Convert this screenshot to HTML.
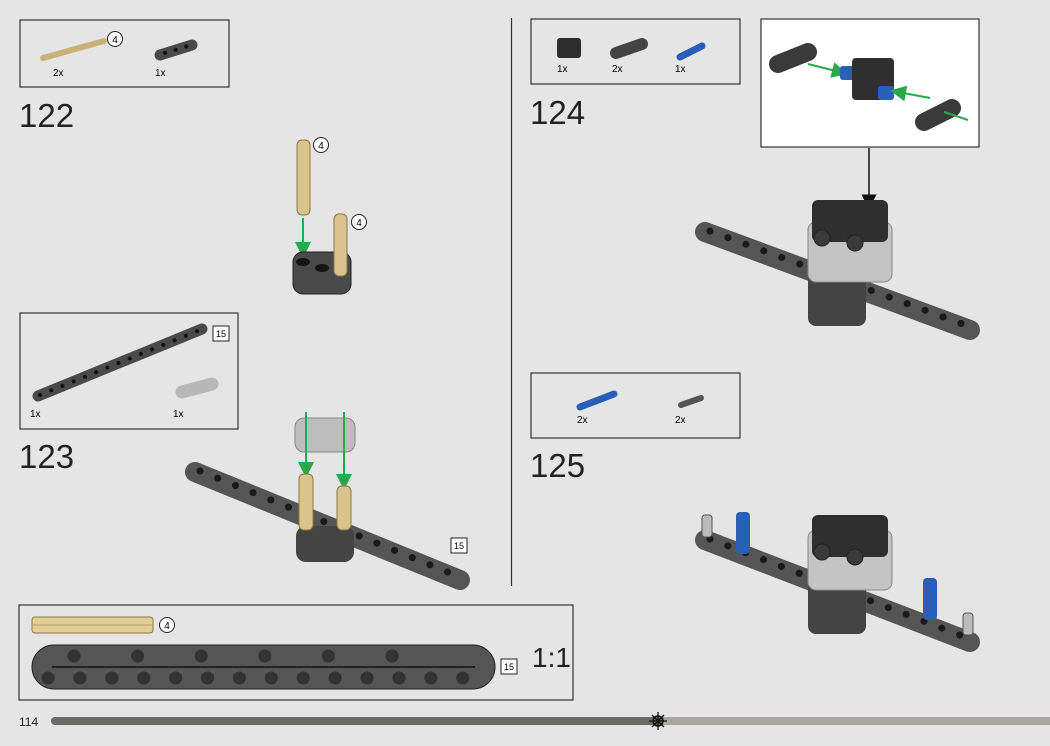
<!DOCTYPE html>
<html><head><meta charset="utf-8"><style>
html,body{margin:0;padding:0;background:#e5e5e5;}
svg{display:block;font-family:"Liberation Sans",sans-serif;}
</style></head><body>
<svg width="1050" height="746" viewBox="0 0 1050 746" xmlns="http://www.w3.org/2000/svg">
<defs>
<marker id="ga" markerWidth="8" markerHeight="8" refX="4" refY="4" orient="auto"><path d="M0,0 L8,4 L0,8 z" fill="#2aa84a"/></marker>
<marker id="ka" markerWidth="10" markerHeight="10" refX="5" refY="5" orient="auto"><path d="M0,0 L10,5 L0,10 z" fill="#111"/></marker>
</defs>
<rect width="1050" height="746" fill="#e5e5e5"/>

<!-- Box 122 parts -->
<rect x="20" y="20" width="209" height="67" fill="none" stroke="#333" stroke-width="1.2"/>
<line x1="43" y1="58" x2="104" y2="41" stroke="#c8b27a" stroke-width="6" stroke-linecap="round"/>
<circle cx="115" cy="39" r="7.5" fill="#fff" stroke="#222"/><text x="115" y="43" font-size="10" text-anchor="middle">4</text>
<line x1="160" y1="55" x2="192" y2="45" stroke="#4a4a4a" stroke-width="11" stroke-linecap="round"/>
<line x1="165" y1="53" x2="188" y2="46" stroke="#111" stroke-width="4" stroke-linecap="round" stroke-dasharray="0.1 11"/>
<text x="53" y="76" font-size="10">2x</text><text x="155" y="76" font-size="10">1x</text>
<text x="19" y="127" font-size="33" fill="#222">122</text>

<!-- Step 122 model -->
<rect x="297" y="140" width="13" height="75" rx="5" fill="#d9c48d" stroke="#8a7745"/>
<circle cx="321" cy="145" r="7.5" fill="#fff" stroke="#222"/><text x="321" y="149" font-size="10" text-anchor="middle">4</text>
<line x1="303" y1="218" x2="303" y2="250" stroke="#2aa84a" stroke-width="2" marker-end="url(#ga)"/>
<rect x="293" y="252" width="58" height="42" rx="10" fill="#4a4a4a" stroke="#222"/>
<ellipse cx="303" cy="262" rx="7" ry="4" fill="#151515"/><ellipse cx="322" cy="268" rx="7" ry="4" fill="#151515"/>
<rect x="334" y="214" width="13" height="62" rx="5" fill="#d9c48d" stroke="#8a7745"/>
<circle cx="359" cy="222" r="7.5" fill="#fff" stroke="#222"/><text x="359" y="226" font-size="10" text-anchor="middle">4</text>

<!-- Box 123 parts -->
<rect x="20" y="313" width="218" height="116" fill="none" stroke="#333" stroke-width="1.2"/>
<line x1="38" y1="396" x2="202" y2="329" stroke="#4a4a4a" stroke-width="11" stroke-linecap="round"/>
<line x1="40" y1="395" x2="200" y2="330" stroke="#111" stroke-width="4" stroke-linecap="round" stroke-dasharray="0.1 12"/>
<line x1="182" y1="392" x2="212" y2="384" stroke="#b8b8b8" stroke-width="13" stroke-linecap="round"/>
<rect x="213" y="326" width="16" height="15" fill="#fff" stroke="#222"/><text x="221" y="337" font-size="9" text-anchor="middle">15</text>
<text x="30" y="417" font-size="10">1x</text><text x="173" y="417" font-size="10">1x</text>
<text x="19" y="468" font-size="33" fill="#222">123</text>

<!-- Step 123 model -->
<line x1="195" y1="472" x2="460" y2="580" stroke="#555" stroke-width="20" stroke-linecap="round"/>
<line x1="200" y1="471" x2="455" y2="575" stroke="#1a1a1a" stroke-width="7" stroke-linecap="round" stroke-dasharray="0.1 19"/>
<rect x="296" y="526" width="58" height="36" rx="10" fill="#444"/>
<rect x="295" y="418" width="60" height="34" rx="9" fill="#bdbdbd" stroke="#888"/>
<line x1="306" y1="412" x2="306" y2="470" stroke="#2aa84a" stroke-width="2" marker-end="url(#ga)"/>
<line x1="344" y1="412" x2="344" y2="482" stroke="#2aa84a" stroke-width="2" marker-end="url(#ga)"/>
<rect x="299" y="474" width="14" height="56" rx="5" fill="#d9c48d" stroke="#8a7745"/>
<rect x="337" y="486" width="14" height="44" rx="5" fill="#d9c48d" stroke="#8a7745"/>
<rect x="451" y="538" width="16" height="15" fill="#fff" stroke="#222"/><text x="459" y="549" font-size="9" text-anchor="middle">15</text>

<line x1="511.5" y1="18" x2="511.5" y2="586" stroke="#333" stroke-width="1.2"/>

<!-- Box 124 parts -->
<rect x="531" y="19" width="209" height="65" fill="none" stroke="#333" stroke-width="1.2"/>
<rect x="557" y="38" width="24" height="20" rx="3" fill="#2d2d2d"/>
<line x1="616" y1="53" x2="642" y2="44" stroke="#444" stroke-width="12" stroke-linecap="round"/>
<line x1="680" y1="57" x2="702" y2="46" stroke="#2a5fb8" stroke-width="7" stroke-linecap="round"/>
<text x="557" y="72" font-size="10">1x</text><text x="612" y="72" font-size="10">2x</text><text x="675" y="72" font-size="10">1x</text>
<text x="530" y="124" font-size="33" fill="#222">124</text>

<!-- callout -->
<rect x="761" y="19" width="218" height="128" fill="#fff" stroke="#333" stroke-width="1.2"/>
<line x1="778" y1="64" x2="808" y2="52" stroke="#3a3a3a" stroke-width="18" stroke-linecap="round"/>
<line x1="808" y1="64" x2="840" y2="72" stroke="#2aa84a" stroke-width="2" marker-end="url(#ga)"/>
<rect x="840" y="66" width="16" height="14" rx="3" fill="#2a5fb8"/>
<rect x="852" y="58" width="42" height="42" rx="4" fill="#2f2f2f"/>
<rect x="878" y="86" width="16" height="14" rx="3" fill="#2a5fb8"/>
<line x1="930" y1="98" x2="898" y2="92" stroke="#2aa84a" stroke-width="2" marker-end="url(#ga)"/>
<line x1="924" y1="122" x2="952" y2="108" stroke="#3a3a3a" stroke-width="18" stroke-linecap="round"/>
<line x1="944" y1="112" x2="968" y2="120" stroke="#2aa84a" stroke-width="2"/>
<line x1="869" y1="148" x2="869" y2="202" stroke="#111" stroke-width="1.5" marker-end="url(#ka)"/>

<!-- Step 124 model -->
<line x1="705" y1="232" x2="970" y2="330" stroke="#555" stroke-width="20" stroke-linecap="round"/>
<line x1="710" y1="231" x2="965" y2="325" stroke="#1a1a1a" stroke-width="7" stroke-linecap="round" stroke-dasharray="0.1 19"/>
<rect x="808" y="270" width="58" height="56" rx="8" fill="#444"/>
<rect x="808" y="222" width="84" height="60" rx="8" fill="#c4c4c4" stroke="#888"/>
<rect x="812" y="200" width="76" height="42" rx="6" fill="#2f2f2f"/>
<circle cx="822" cy="238" r="8" fill="#3a3a3a" stroke="#222"/><circle cx="855" cy="243" r="8" fill="#3a3a3a" stroke="#222"/>

<!-- Box 125 parts -->
<rect x="531" y="373" width="209" height="65" fill="none" stroke="#333" stroke-width="1.2"/>
<line x1="580" y1="407" x2="614" y2="394" stroke="#2a5fb8" stroke-width="7" stroke-linecap="round"/>
<line x1="681" y1="405" x2="701" y2="398" stroke="#555" stroke-width="6" stroke-linecap="round"/>
<text x="577" y="423" font-size="10">2x</text><text x="675" y="423" font-size="10">2x</text>
<text x="530" y="477" font-size="33" fill="#222">125</text>

<!-- Step 125 model -->
<line x1="705" y1="540" x2="970" y2="642" stroke="#555" stroke-width="20" stroke-linecap="round"/>
<line x1="710" y1="539" x2="965" y2="637" stroke="#1a1a1a" stroke-width="7" stroke-linecap="round" stroke-dasharray="0.1 19"/>
<rect x="808" y="578" width="58" height="56" rx="8" fill="#444"/>
<rect x="808" y="530" width="84" height="60" rx="8" fill="#c4c4c4" stroke="#888"/>
<rect x="812" y="515" width="76" height="42" rx="6" fill="#2f2f2f"/>
<circle cx="822" cy="552" r="8" fill="#3a3a3a" stroke="#222"/><circle cx="855" cy="557" r="8" fill="#3a3a3a" stroke="#222"/>
<rect x="736" y="512" width="14" height="42" rx="4" fill="#2a5fb8"/>
<rect x="923" y="578" width="14" height="42" rx="4" fill="#2a5fb8"/>
<rect x="702" y="515" width="10" height="22" rx="3" fill="#bbb" stroke="#555"/>
<rect x="963" y="613" width="10" height="22" rx="3" fill="#bbb" stroke="#555"/>

<!-- bottom 1:1 box -->
<rect x="19" y="605" width="554" height="95" fill="none" stroke="#333" stroke-width="1.2"/>
<rect x="32" y="617" width="121" height="16" rx="3" fill="#e2cf95" stroke="#8a7745"/>
<line x1="32" y1="625" x2="153" y2="625" stroke="#b49d62"/>
<circle cx="167" cy="625" r="7.5" fill="#fff" stroke="#222"/><text x="167" y="629" font-size="10" text-anchor="middle">4</text>
<rect x="32" y="645" width="463" height="44" rx="22" fill="#555" stroke="#222"/>
<line x1="52" y1="667" x2="475" y2="667" stroke="#222" stroke-width="2"/>
<line x1="74" y1="656" x2="455" y2="656" stroke="#333" stroke-width="13" stroke-linecap="round" stroke-dasharray="0.1 63.5"/>
<line x1="48" y1="678" x2="480" y2="678" stroke="#333" stroke-width="13" stroke-linecap="round" stroke-dasharray="0.1 31.8"/>
<rect x="501" y="659" width="16" height="15" fill="#fff" stroke="#222"/><text x="509" y="670" font-size="9" text-anchor="middle">15</text>
<text x="532" y="667" font-size="28" fill="#222">1:1</text>

<!-- footer -->
<text x="19" y="726" font-size="12" fill="#222">114</text>
<line x1="55" y1="721" x2="658" y2="721" stroke="#6a6a66" stroke-width="8" stroke-linecap="round"/>
<line x1="658" y1="721" x2="1050" y2="721" stroke="#aaa7a1" stroke-width="8"/>
<circle cx="658" cy="721" r="5" fill="#6a6a66" stroke="#111" stroke-width="1.5"/>
<g stroke="#111" stroke-width="1.3">
<line x1="658" y1="712" x2="658" y2="730"/><line x1="649" y1="721" x2="667" y2="721"/>
<line x1="652" y1="715" x2="664" y2="727"/><line x1="664" y1="715" x2="652" y2="727"/>
</g>
</svg>
</body></html>
